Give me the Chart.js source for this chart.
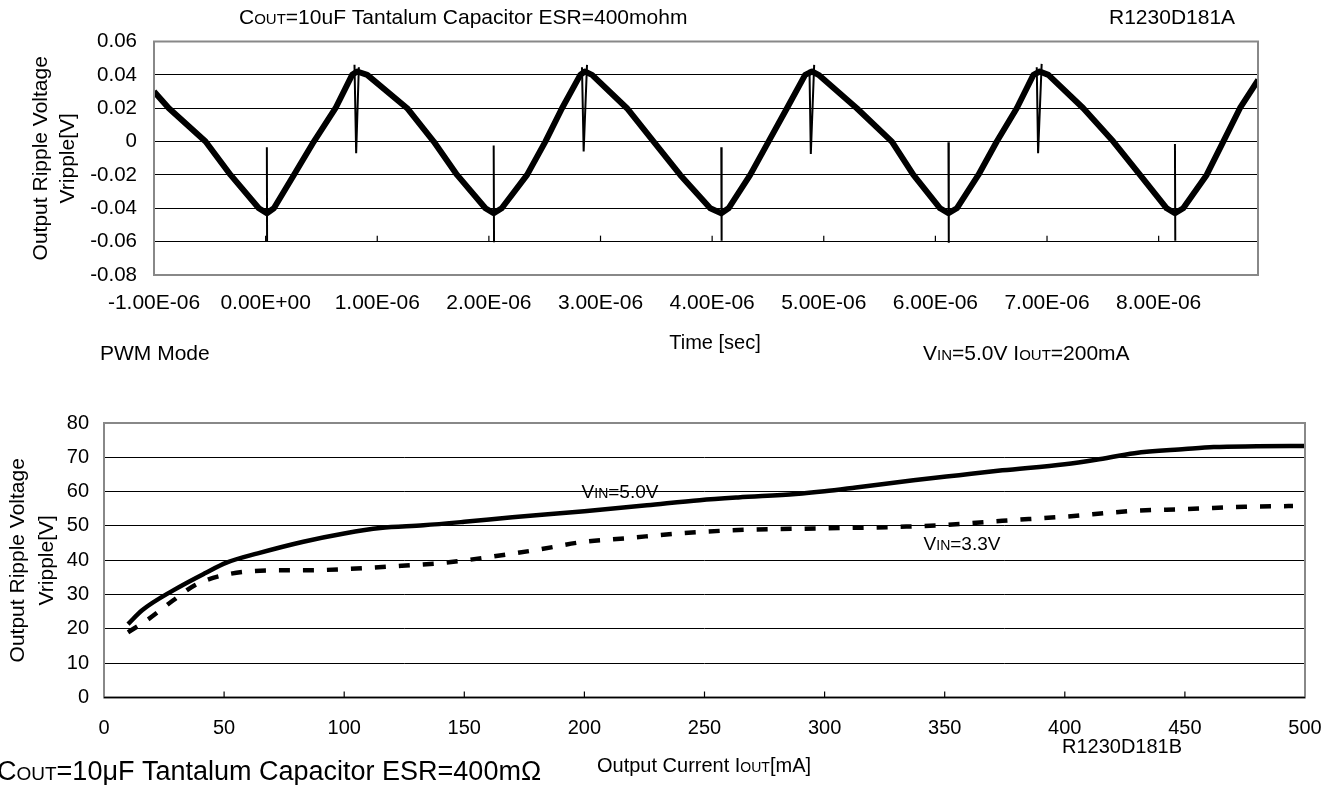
<!DOCTYPE html>
<html>
<head>
<meta charset="utf-8">
<script src="https://cdn.jsdelivr.net/npm/chart.js@4.4.1/dist/chart.umd.min.js"></script>
<style>
    html, body { margin: 0; padding: 0; background: #fff; overflow: hidden; }
    #rippleChart { position: absolute; left: 0; top: 0; }
    #loadChart { position: absolute; left: 0; top: 390px; }
</style>
</head>
<body>
<canvas id="rippleChart" width="1342" height="390"></canvas>
<canvas id="loadChart" width="1342" height="395"></canvas>
<script>
// 上图: 纹波波形 (时间单位 µs, 电压 V)
const timeUs = [-1.000, -0.867, -0.538, -0.314, -0.061, 0.011, 0.074, 0.253, 0.432, 0.626, 0.775, 0.820,
    0.910, 1.268, 1.506, 1.715, 1.969, 2.043, 2.115, 2.342, 2.506, 2.655, 2.819, 2.860,
    2.924, 3.237, 3.476, 3.714, 3.983, 4.082, 4.147, 4.341, 4.505, 4.670, 4.833, 4.895,
    4.953, 5.296, 5.610, 5.803, 6.042, 6.117, 6.192, 6.385, 6.550, 6.729, 6.878, 6.935,
    7.012, 7.325, 7.594, 7.833, 8.072, 8.146, 8.220, 8.430, 8.579, 8.728, 8.892];
const rippleV = [0.030, 0.020, 0.000, -0.020, -0.040, -0.043, -0.040, -0.020, 0.000, 0.020, 0.040, 0.042,
    0.040, 0.020, 0.000, -0.020, -0.040, -0.043, -0.040, -0.020, 0.000, 0.020, 0.040, 0.042,
    0.040, 0.020, 0.000, -0.020, -0.040, -0.043, -0.040, -0.020, 0.000, 0.020, 0.040, 0.042,
    0.040, 0.020, 0.000, -0.020, -0.040, -0.043, -0.040, -0.020, 0.000, 0.020, 0.040, 0.042,
    0.040, 0.020, 0.000, -0.020, -0.040, -0.043, -0.040, -0.020, 0.000, 0.020, 0.037];

// 开关尖峰 (null 分段)
const spikeTimeUs = [0.011, 0.013, 0.013, 0.796, 0.811, 0.835, 0.835,
    2.043, 2.046, 2.046, 2.834, 2.849, 2.879, 2.879,
    4.082, 4.085, 4.085, 4.872, 4.884, 4.914, 4.914,
    6.117, 6.120, 6.120, 6.908, 6.920, 6.952, 6.952,
    8.146, 8.149];
const spikeV = [-0.0034, -0.060, null, 0.046, -0.007, 0.0446, null,
    -0.0024, -0.0604, null, 0.0446, -0.006, 0.046, null,
    -0.0034, -0.0594, null, 0.043, -0.0074, 0.046, null,
    -0.0004, -0.0606, null, 0.0446, -0.007, 0.0466, null,
    -0.0014, -0.0594];

// 下图: 纹波 vs 输出电流
const iout50 = [10, 16, 29, 42, 51, 64, 83, 100, 115, 133, 150, 170, 200, 226, 248, 264, 288, 300,
    313, 337, 356, 374, 400, 413, 429, 450, 462, 480, 500];
const vrip50 = [21.4, 25.5, 31.3, 36.2, 39.3, 42.0, 45.4, 47.8, 49.4, 50.2, 51.2, 52.5, 54.3, 56.0, 57.5, 58.3, 59.3, 60.1,
    61.2, 63.3, 64.8, 66.2, 68.0, 69.3, 71.2, 72.4, 73.0, 73.2, 73.3];
const iout33 = [10, 18, 29, 38, 50, 68, 87, 105, 124, 142, 161, 180, 200, 217, 239, 264, 300,
    334, 350, 374, 400, 429, 450, 475, 495];
const vrip33 = [19.0, 22.6, 28.4, 32.8, 35.7, 37.0, 37.1, 37.6, 38.4, 39.3, 41.0, 43.0, 45.4, 46.4, 47.8, 48.8, 49.3,
    49.8, 50.3, 51.5, 52.7, 54.4, 54.9, 55.6, 55.8];

const FONT = '"Liberation Sans", Arial, sans-serif';
Chart.defaults.font.family = FONT;
Chart.defaults.color = '#000';

const toPoints = (xs, ys) => xs.map((x, i) => ({ x: x, y: ys[i] }));

function fmtSci(us) {
    if (Math.abs(us) < 1e-9) return '0.00E+00';
    const parts = (us * 1e-6).toExponential(2).split('e');
    const sign = parts[1][0] === '-' ? '-' : '+';
    return parts[0] + 'E' + sign + parts[1].replace(/[+-]/, '').padStart(2, '0');
}

// 混合字号文本 (小型大写字母)
function drawRich(ctx, parts, x, y, size, align) {
    ctx.save();
    ctx.fillStyle = '#000';
    ctx.textBaseline = 'alphabetic';
    ctx.textAlign = 'left';
    const fontOf = small => (small ? Math.round(size * 0.72) : size) + 'px ' + FONT;
    let w = 0;
    parts.forEach(p => { ctx.font = fontOf(p[1]); w += ctx.measureText(p[0]).width; });
    let cx = align === 'center' ? x - w / 2 : x;
    const base = y + size * 0.36;
    parts.forEach(p => {
        ctx.font = fontOf(p[1]);
        ctx.fillText(p[0], cx, base);
        cx += ctx.measureText(p[0]).width;
    });
    ctx.restore();
}

// 绘图区边框、刻度线、注释文字
const framePlugin = {
    id: 'frame',
    afterDraw(chart, args, opts) {
        const ctx = chart.ctx;
        const area = chart.chartArea;
        const xs = chart.scales.x;
        const ys = chart.scales.y;
        ctx.save();
        ctx.strokeStyle = '#888';
        ctx.lineWidth = 2;
        ctx.strokeRect(area.left, area.top, area.right - area.left, area.bottom - area.top);
        if (opts.blackBottom) {
            ctx.strokeStyle = '#000';
            ctx.lineWidth = 1.5;
            ctx.beginPath();
            ctx.moveTo(area.left, area.bottom);
            ctx.lineTo(area.right, area.bottom);
            ctx.stroke();
        }
        const yBase = ys.getPixelForValue(opts.tickBase);
        ctx.strokeStyle = '#000';
        ctx.lineWidth = 1.2;
        xs.ticks.forEach(t => {
            const px = xs.getPixelForValue(t.value);
            if (px <= area.left + 2 || px >= area.right - 2) return;
            ctx.beginPath();
            ctx.moveTo(px, yBase);
            ctx.lineTo(px, yBase - 6);
            ctx.stroke();
        });
        ctx.restore();
        (opts.texts || []).forEach(t => drawRich(ctx, t.parts, t.x, t.y, t.size, t.align));
    }
};

// 上图
new Chart(document.getElementById('rippleChart').getContext('2d'), {
    type: 'line',
    data: {
        datasets: [{
            label: 'Vripple',
            data: toPoints(timeUs, rippleV),
            borderColor: '#000',
            borderWidth: 6,
            borderJoinStyle: 'round',
            pointRadius: 0,
            tension: 0
        }, {
            label: 'Spike',
            data: toPoints(spikeTimeUs, spikeV),
            borderColor: '#000',
            borderWidth: 2,
            pointRadius: 0,
            tension: 0,
            spanGaps: false
        }]
    },
    options: {
        responsive: false,
        animation: false,
        layout: { padding: { left: 0, top: 41.5, right: 84, bottom: 0 } },
        plugins: {
            legend: { display: false },
            tooltip: { enabled: false },
            frame: {
                tickBase: -0.06,
                texts: [
                    { parts: [['C'], ['OUT', 1], ['=10uF Tantalum Capacitor ESR=400mohm']], x: 239, y: 16, size: 21 },
                    { parts: [['R1230D181A']], x: 1109, y: 16, size: 21 },
                    { parts: [['Time [sec]']], x: 715, y: 342, size: 20, align: 'center' },
                    { parts: [['PWM Mode']], x: 100, y: 352, size: 21 },
                    { parts: [['V'], ['IN', 1], ['=5.0V I'], ['OUT', 1], ['=200mA']], x: 923, y: 352, size: 21 }
                ]
            }
        },
        scales: {
            x: {
                type: 'linear',
                min: -1,
                max: 8.89,
                ticks: {
                    stepSize: 1,
                    includeBounds: false,
                    autoSkip: false,
                    maxRotation: 0,
                    padding: 16,
                    font: { size: 21 },
                    callback: v => fmtSci(v)
                },
                grid: { display: false, drawTicks: false },
                border: { display: false },
                afterFit: s => { s.height = 115; }
            },
            y: {
                min: -0.08,
                max: 0.06,
                ticks: {
                    stepSize: 0.02,
                    padding: 17,
                    font: { size: 20.5 },
                    callback: v => (Math.abs(v) < 1e-9 ? '0' : v.toFixed(2))
                },
                grid: { color: '#000', lineWidth: 1, drawTicks: false },
                border: { display: false },
                title: {
                    display: true,
                    text: ['Output Ripple Voltage', 'Vripple[V]'],
                    font: { size: 21, lineHeight: 1.29 },
                    padding: { top: 27.5, bottom: 0 }
                },
                afterFit: s => { s.width = 154; }
            }
        }
    },
    plugins: [framePlugin]
});

// 下图
new Chart(document.getElementById('loadChart').getContext('2d'), {
    type: 'line',
    data: {
        datasets: [{
            label: 'VIN=5.0V',
            data: toPoints(iout50, vrip50),
            borderColor: '#000',
            borderWidth: 4.5,
            pointRadius: 0,
            cubicInterpolationMode: 'monotone'
        }, {
            label: 'VIN=3.3V',
            data: toPoints(iout33, vrip33),
            borderColor: '#000',
            borderWidth: 4.5,
            borderDash: [11, 13],
            borderCapStyle: 'butt',
            pointRadius: 0,
            cubicInterpolationMode: 'monotone'
        }]
    },
    options: {
        responsive: false,
        animation: false,
        layout: { padding: { left: 0, top: 33, right: 37, bottom: 0 } },
        plugins: {
            legend: { display: false },
            tooltip: { enabled: false },
            frame: {
                tickBase: 0,
                blackBottom: true,
                texts: [
                    { parts: [['V'], ['IN', 1], ['=5.0V']], x: 620, y: 101, size: 19, align: 'center' },
                    { parts: [['V'], ['IN', 1], ['=3.3V']], x: 962, y: 153, size: 19, align: 'center' },
                    { parts: [['R1230D181B']], x: 1122, y: 356, size: 20, align: 'center' },
                    { parts: [['Output Current I'], ['OUT', 1], ['[mA]']], x: 704, y: 375, size: 20, align: 'center' },
                    { parts: [['C'], ['OUT', 1], ['=10\u03bcF Tantalum Capacitor ESR=400m\u03a9']], x: -3, y: 380, size: 27 }
                ]
            }
        },
        scales: {
            x: {
                type: 'linear',
                min: 0,
                max: 500,
                ticks: {
                    stepSize: 50,
                    autoSkip: false,
                    maxRotation: 0,
                    padding: 18.5,
                    font: { size: 20 }
                },
                grid: { display: false, drawTicks: false },
                border: { display: false },
                afterFit: s => { s.height = 87.5; }
            },
            y: {
                min: 0,
                max: 80,
                ticks: {
                    stepSize: 10,
                    padding: 15,
                    font: { size: 20 }
                },
                grid: { color: '#000', lineWidth: 1, drawTicks: false },
                border: { display: false },
                title: {
                    display: true,
                    text: ['Output Ripple Voltage', 'Vripple[V]'],
                    font: { size: 21, lineHeight: 1.36 },
                    padding: { top: 4, bottom: 0 }
                },
                afterFit: s => { s.width = 104; }
            }
        }
    },
    plugins: [framePlugin]
});
</script>
</body>
</html>
